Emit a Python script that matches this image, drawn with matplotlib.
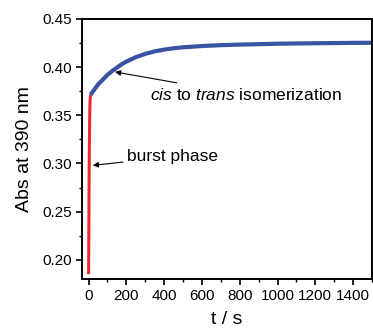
import matplotlib
matplotlib.use("Agg")
import matplotlib.pyplot as plt
from matplotlib.ticker import MultipleLocator

plt.rcParams['font.family'] = ['Liberation Sans', 'DejaVu Sans']
plt.rcParams['mathtext.fontset'] = 'custom'
plt.rcParams['mathtext.rm'] = 'Liberation Sans'
plt.rcParams['mathtext.it'] = 'Liberation Sans:italic'

# burst phase (red)
t_burst = [0, 1, 2, 3, 4, 5, 6, 7, 8, 10]
a_burst = [0.185, 0.22, 0.26, 0.29, 0.315, 0.335, 0.350, 0.360, 0.366, 0.371]

# cis to trans isomerization (blue)
t_iso = [10, 20, 35, 50, 75, 100, 125, 150, 175, 200, 250, 300, 350, 400, 450,
         500, 600, 700, 800, 1000, 1200, 1400, 1500]
a_iso = [0.371, 0.374, 0.378, 0.382, 0.387, 0.392, 0.396, 0.3995, 0.403, 0.4058,
         0.4103, 0.4138, 0.4164, 0.4182, 0.4196, 0.4206, 0.4219, 0.4228, 0.4234,
         0.4243, 0.4248, 0.4252, 0.4253]

fig = plt.figure(figsize=(3.73, 3.30), dpi=100)
ax = fig.add_axes([0.2198, 0.1545, 0.7775, 0.788])

ax.plot(t_iso, a_iso, color='#3953a4', lw=3.0, solid_capstyle='butt')
ax.plot(t_burst, a_burst, color='#ee2a2e', lw=2.2, solid_capstyle='butt')

ax.set_xlim(-35, 1500)
ax.set_ylim(0.18, 0.45)
ax.xaxis.set_major_locator(MultipleLocator(200))
ax.xaxis.set_minor_locator(MultipleLocator(100))
ax.yaxis.set_major_locator(MultipleLocator(0.05))
ax.yaxis.set_minor_locator(MultipleLocator(0.025))
ax.yaxis.set_major_formatter(plt.FormatStrFormatter('%.2f'))
ax.tick_params(which='major', direction='out', length=4, width=1.2, labelsize=11, pad=3)
ax.tick_params(which='minor', direction='out', length=2.5, width=1.0)
for s in ax.spines.values():
    s.set_linewidth(1.4)

ax.set_xlabel('t / s', fontsize=14, labelpad=6)
ax.set_ylabel('Abs at 390 nm', fontsize=14, labelpad=7)

ax.annotate('burst phase', xy=(22, 0.298), xytext=(204, 0.307),
            fontsize=12.5, va='center', ha='left',
            arrowprops=dict(arrowstyle='-|>', color='black', lw=0.8,
                            mutation_scale=8, shrinkA=1, shrinkB=0))
ax.annotate('$\\it{cis}$ to $\\it{trans}$ isomerization', xy=(140, 0.395),
            xytext=(325, 0.371), fontsize=12.5, va='center', ha='left',
            arrowprops=dict(arrowstyle='-|>', color='black', lw=0.8,
                            mutation_scale=8, shrinkA=6, shrinkB=0))

fig.savefig('out.png', dpi=100)
